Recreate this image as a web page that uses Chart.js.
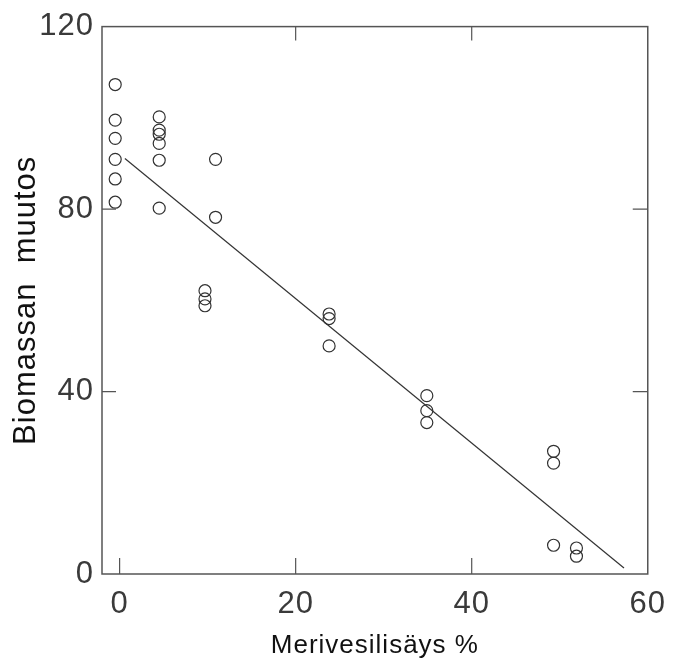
<!DOCTYPE html>
<html>
<head>
<meta charset="utf-8">
<script src="https://cdn.jsdelivr.net/npm/chart.js@4"></script>
<style>
  html, body { margin: 0; padding: 0; background: #fff; }
  #wrap { width: 677px; height: 667px; }
</style>
</head>
<body>
<div id="wrap"><canvas id="grafiek" width="677" height="667"></canvas></div>
<script>
// meetpunten (x = merivesilisäys %, y = biomassan muutos)
const pointsX = [
  -0.5, -0.5, -0.5, -0.5, -0.5, -0.5,
  4.5, 4.5, 4.5, 4.5, 4.5, 4.5,
  10.9, 10.9,
  9.7, 9.7, 9.7,
  23.8, 23.8, 23.8,
  34.9, 34.9, 34.9,
  49.3, 49.3, 49.3,
  51.9, 51.9
];
const pointsY = [
  107.3, 99.5, 95.5, 90.9, 86.6, 81.5,
  100.2, 97.3, 96.4, 94.4, 90.7, 80.2,
  90.9, 78.2,
  62.1, 60.3, 58.8,
  57.0, 56.0, 50.0,
  39.1, 35.8, 33.2,
  26.9, 24.3, 6.3,
  5.7, 3.9
];
// regressielijn (begin- en eindpunt)
const lineX = [0.6, 57.3];
const lineY = [91.1, 1.3];

const xTicks = [0, 20, 40, 60];
const yTicks = [0, 40, 80, 120];
const xTitle = 'Merivesilisäys %';
const yTitle = 'Biomassan  muutos';

// kader + naar binnen gerichte tickjes
const frame = {
  id: 'frame',
  beforeDraw(chart) {
    chart.ctx.letterSpacing = '1px'; // tekst iets breder zoals het origineel
  },
  afterDraw(chart) {
    const { ctx, chartArea: a, scales } = chart;
    ctx.save();
    ctx.strokeStyle = '#555';
    ctx.lineWidth = 1.5;
    ctx.strokeRect(a.left, a.top, a.right - a.left, a.bottom - a.top);
    ctx.lineWidth = 1.2;
    ctx.beginPath();
    xTicks.forEach(v => {
      if (v <= scales.x.min || v >= scales.x.max) return;
      const px = scales.x.getPixelForValue(v);
      ctx.moveTo(px, a.bottom); ctx.lineTo(px, a.bottom - 16);
      if (v > 0) { ctx.moveTo(px, a.top); ctx.lineTo(px, a.top + 14); }
    });
    yTicks.forEach(v => {
      if (v <= scales.y.min || v >= scales.y.max) return;
      const py = scales.y.getPixelForValue(v);
      ctx.moveTo(a.left, py); ctx.lineTo(a.left + 14, py);
      ctx.moveTo(a.right, py); ctx.lineTo(a.right - 15, py);
    });
    ctx.stroke();
    ctx.restore();
    ctx.letterSpacing = '0px';
  }
};

const ctx = document.getElementById('grafiek').getContext('2d');
new Chart(ctx, {
  type: 'scatter',
  data: {
    datasets: [
      {
        label: 'metingen',
        data: pointsX.map((x, i) => ({ x: x, y: pointsY[i] })),
        pointStyle: 'circle',
        pointRadius: 6,
        pointBorderWidth: 1.2,
        borderColor: '#333',
        backgroundColor: 'rgba(0,0,0,0)',
        showLine: false
      },
      {
        label: 'regressie',
        data: lineX.map((x, i) => ({ x: x, y: lineY[i] })),
        showLine: true,
        borderColor: '#333',
        borderWidth: 1.2,
        pointRadius: 0,
        fill: false
      }
    ]
  },
  plugins: [frame],
  options: {
    responsive: false,
    animation: false,
    events: [],
    layout: { padding: { top: 25, right: 28, left: 0, bottom: 0 } },
    plugins: { legend: { display: false }, tooltip: { enabled: false } },
    scales: {
      x: {
        type: 'linear',
        min: -2,
        max: 60,
        afterBuildTicks: s => { s.ticks = xTicks.map(v => ({ value: v })); },
        afterFit: s => { s.height = 93; },
        grid: { display: false, drawTicks: false },
        border: { display: false },
        ticks: {
          padding: 12,
          color: '#3a3a3a',
          font: { family: 'Liberation Sans', size: 31 },
          maxRotation: 0
        },
        title: {
          display: true,
          text: xTitle,
          color: '#111',
          font: { family: 'Liberation Sans', size: 26 },
          padding: { top: 0, bottom: 6 }
        }
      },
      y: {
        type: 'linear',
        min: 0,
        max: 120,
        afterBuildTicks: s => { s.ticks = yTicks.map(v => ({ value: v })); },
        afterFit: s => { s.width = 102; },
        grid: { display: false, drawTicks: false },
        border: { display: false },
        ticks: {
          padding: 8,
          color: '#3a3a3a',
          font: { family: 'Liberation Sans', size: 31 }
        },
        title: {
          display: true,
          text: yTitle,
          color: '#111',
          font: { family: 'Liberation Sans', size: 31 },
          padding: { top: 8, bottom: 0 }
        }
      }
    }
  }
});
</script>
</body>
</html>
